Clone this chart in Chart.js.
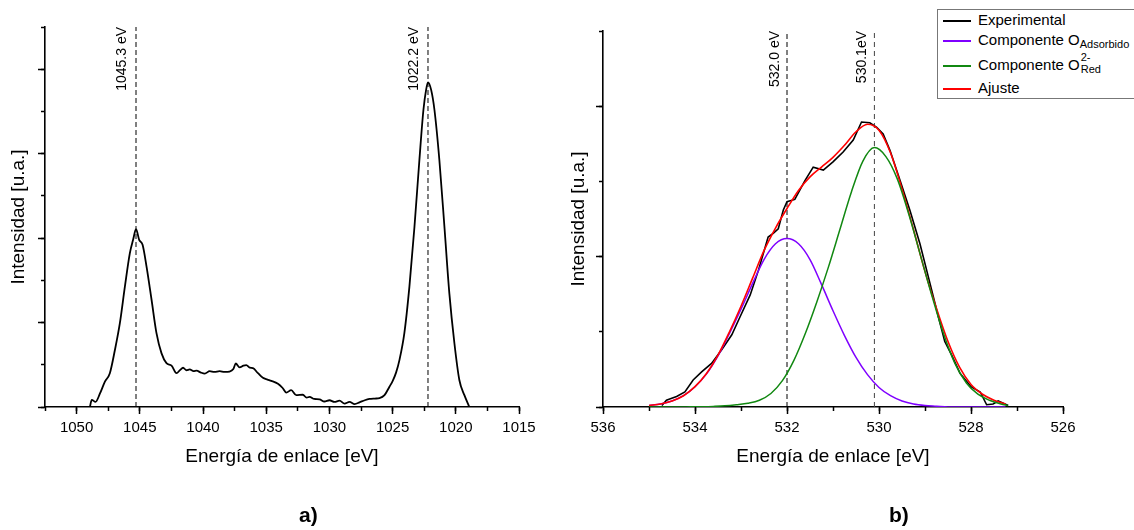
<!DOCTYPE html>
<html><head><meta charset="utf-8">
<script src="https://cdn.jsdelivr.net/npm/chart.js@4.4.1/dist/chart.umd.min.js"></script>
<style>
html,body{margin:0;padding:0;background:#fff;}
body{width:1134px;height:530px;position:relative;overflow:hidden;font-family:"Liberation Sans",Arial,sans-serif;color:#000;}
#cA{position:absolute;left:0;top:0;}
#cB{position:absolute;left:560px;top:0;}
.panel{position:absolute;top:503px;font-weight:bold;font-size:21px;line-height:24px;}
#legend{position:absolute;left:937px;top:9px;width:200px;height:88px;border:1px solid #777;background:#fff;font-size:15px;}
.sw{position:absolute;left:5px;width:28px;height:0;border-top:2px solid;}
.lab{position:absolute;left:40px;line-height:17px;white-space:nowrap;}
.sub{font-size:11px;position:relative;top:3px;}
.ss{position:relative;display:inline-block;width:30px;height:17px;vertical-align:top;}
.sp{position:absolute;left:1px;top:-5px;font-size:11px;line-height:13px;}
.sb{position:absolute;left:1px;top:7px;font-size:11px;line-height:13px;}
</style></head>
<body>
<canvas id="cA" width="560" height="530"></canvas>
<canvas id="cB" width="574" height="530"></canvas>
<div class="panel" style="left:299px;">a)</div>
<div class="panel" style="left:889px;">b)</div>
<div id="legend">
  <div class="sw" style="top:10px;border-color:#000;"></div><div class="lab" style="top:1px;">Experimental</div>
  <div class="sw" style="top:30px;border-color:#7f00ff;"></div><div class="lab" style="top:21px;">Componente O<span class="sub">Adsorbido</span></div>
  <div class="sw" style="top:55px;border-color:#118811;"></div><div class="lab" style="top:46px;">Componente O<span class="ss"><span class="sp">2-</span><span class="sb">Red</span></span></div>
  <div class="sw" style="top:78px;border-color:#ff0000;"></div><div class="lab" style="top:69px;">Ajuste</div>
</div>
<script>
// ---------- Data (a): Zn 2p spectrum ----------
const znEnergy = [1048.95,1048.8,1048.5,1048.15,1047.76,1047.37,1046.97,1046.58,1046.18,1045.79,1045.53,1045.3,1045.05,1044.78,1044.47,1044.07,1043.68,1043.28,1042.89,1042.49,1042.1,1041.8,1041.58,1041.3,1041.05,1040.75,1040.5,1040.2,1039.86,1039.47,1039.1,1038.68,1038.3,1037.9,1037.6,1037.41,1037.1,1036.8,1036.57,1036.3,1036.05,1035.65,1035.26,1034.9,1034.6,1034.07,1033.7,1033.41,1033.02,1032.62,1032.1,1031.8,1031.57,1031.2,1030.78,1030.4,1029.99,1029.6,1029.2,1028.8,1028.41,1028.0,1027.62,1027.2,1026.83,1026.4,1026.04,1025.64,1025.25,1024.99,1024.72,1024.46,1024.07,1023.67,1023.27,1022.88,1022.56,1022.35,1022.2,1021.95,1021.69,1021.3,1020.9,1020.51,1020.11,1019.72,1019.32,1018.93];
const znIntensity = [0.0,0.17,0.12,0.32,0.6,0.8,1.35,1.98,2.85,3.64,3.96,4.21,3.96,3.84,3.33,2.54,1.75,1.27,1.04,0.98,0.80,0.88,0.93,0.87,0.89,0.85,0.86,0.82,0.79,0.85,0.83,0.85,0.83,0.84,0.9,1.03,0.94,0.98,0.99,0.93,0.92,0.8,0.69,0.65,0.62,0.55,0.45,0.34,0.40,0.28,0.29,0.22,0.24,0.19,0.18,0.13,0.16,0.12,0.15,0.08,0.12,0.07,0.11,0.16,0.19,0.20,0.21,0.28,0.48,0.62,0.82,1.11,1.75,2.85,4.27,5.85,7.04,7.51,7.69,7.51,7.04,5.85,4.27,2.69,1.51,0.64,0.28,0.0];
const znPeaks = [1045.3, 1022.2];
const znPeakLabels = ['1045.3 eV', '1022.2 eV'];
const znTicksMajor = 5, znTicksMinor = 2.5;

// ---------- Data (b): O 1s spectrum ----------
const oExpEnergy = [534.72,534.62,534.58,534.40,534.22,534.04,533.85,533.64,533.42,533.20,533.02,532.80,532.62,532.41,532.30,532.19,532.08,532.00,531.83,531.61,531.43,531.21,531.00,530.78,530.56,530.38,530.20,530.05,529.91,529.76,529.54,529.33,529.11,528.89,528.71,528.57,528.42,528.24,528.00,527.80,527.66,527.52,527.41,527.19];
const oExpIntensity = [0.02,0.09,0.10,0.14,0.20,0.36,0.47,0.58,0.76,0.96,1.20,1.49,1.82,2.26,2.31,2.37,2.62,2.73,2.76,3.01,3.19,3.15,3.26,3.39,3.55,3.79,3.78,3.72,3.63,3.41,3.01,2.62,2.17,1.64,1.20,0.87,0.69,0.45,0.27,0.20,0.03,0.04,0.08,0.02];
const fitEnergy = [535.0,534.75,534.5,534.25,534.0,533.75,533.5,533.25,533.0,532.75,532.5,532.25,532.0,531.75,531.5,531.25,531.0,530.75,530.5,530.25,530.0,529.75,529.5,529.25,529.0,528.75,528.5,528.25,528.0,527.75,527.5,527.25];
const adsorbido = [0.02,0.04,0.08,0.15,0.27,0.44,0.68,0.98,1.30,1.64,1.96,2.17,2.24,2.17,1.96,1.63,1.28,0.95,0.66,0.43,0.26,0.15,0.08,0.04,0.02,0.01,0.0,0.0,0.0,0.0,0.0,0.0];
const ajuste = [0.02,0.04,0.08,0.15,0.27,0.445,0.69,1.0,1.34,1.71,2.08,2.38,2.64,2.88,3.06,3.19,3.32,3.48,3.66,3.76,3.68,3.38,2.90,2.36,1.80,1.31,0.87,0.53,0.30,0.17,0.09,0.04];
const redEnergy = [535.0,534.85,534.6,534.35,534.1,533.85,533.6,533.35,533.1,532.85,532.6,532.35,532.1,531.85,531.6,531.35,531.1,530.85,530.6,530.35,530.1,529.85,529.6,529.35,529.1,528.85,528.6,528.35,528.1,527.85,527.6,527.35,527.2];
const redComponent = [0,0,0,0,0.002,0.004,0.008,0.015,0.03,0.05,0.09,0.18,0.35,0.62,0.98,1.40,1.86,2.36,2.86,3.27,3.45,3.33,3.03,2.56,2.02,1.48,0.98,0.58,0.32,0.17,0.09,0.04,0.02];
const oPeaks = [532.0, 530.1];
const oPeakLabels = ['532.0 eV', '530.1eV'];

// ---------- helpers ----------
const FONT = '"Liberation Sans", Arial, sans-serif';
Chart.defaults.font.family = FONT;
Chart.defaults.color = '#000';
const pts = (xs, ys) => xs.map((x, i) => ({x, y: ys[i]}));
const vline = (xv, ymax, color, dash) => ({data: [{x: xv, y: 0}, {x: xv, y: ymax}], borderColor: color, borderWidth: 1, borderDash: dash, pointRadius: 0, tension: 0});

const peakLabelPlugin = {
  id: 'peakLabels',
  afterDatasetsDraw(chart, args, opts) {
    const {ctx} = chart; const x = chart.scales.x, y = chart.scales.y;
    ctx.save();
    ctx.font = '14px ' + FONT;
    ctx.fillStyle = '#000';
    ctx.textAlign = 'right';
    ctx.textBaseline = 'alphabetic';
    opts.positions.forEach((p, i) => {
      ctx.save();
      ctx.translate(x.getPixelForValue(p) - opts.gap, y.getPixelForValue(opts.top));
      ctx.rotate(-Math.PI / 2);
      ctx.fillText(opts.labels[i], 0, 0);
      ctx.restore();
    });
    ctx.restore();
  }
};

function makeScales(xmin, xmax, xMajor, xMinor, ymax, yMajor, yWidth) {
  const tickCfg = {color: '#000', tickWidth: 1.5, drawOnChartArea: false};
  return {
    x: {type: 'linear', position: 'bottom', min: xmin, max: xmax, reverse: true,
        ticks: {stepSize: xMajor, includeBounds: false, autoSkip: false, maxRotation: 0, padding: 5, color: '#000', font: {size: 15}, callback: v => String(v)},
        grid: Object.assign({tickLength: 7, tickColor: '#000'}, tickCfg),
        border: {display: true, color: '#000', width: 1.6},
        title: {display: true, text: 'Energía de enlace [eV]', color: '#000', font: {size: 19}, padding: {top: 0, bottom: 0}},
        afterFit(s) { s.height = 61; }},
    xm: {type: 'linear', axis: 'x', position: {y: 0}, min: xmin, max: xmax, reverse: true,
        ticks: {stepSize: xMinor, display: false, autoSkip: false},
        grid: Object.assign({tickLength: 4, tickColor: '#000'}, tickCfg),
        border: {display: false}},
    y: {type: 'linear', position: 'left', min: 0, max: ymax,
        ticks: {stepSize: yMajor, includeBounds: false, callback: () => '', padding: 0},
        grid: Object.assign({tickLength: 7, tickColor: '#000'}, tickCfg),
        border: {display: true, color: '#000', width: 1.6},
        title: {display: true, text: 'Intensidad [u.a.]', color: '#000', font: {size: 19}, padding: {top: 7, bottom: 0}},
        afterFit(s) { s.width = yWidth; }},
    ym: {type: 'linear', axis: 'y', position: {x: xmax}, min: 0, max: ymax,
        ticks: {stepSize: 1, display: false},
        grid: Object.assign({tickLength: 4, tickColor: '#000'}, tickCfg),
        border: {display: false}}
  };
}

const common = {responsive: false, animation: false, events: [],
  plugins: {legend: {display: false}, tooltip: {enabled: false}},
  elements: {point: {radius: 0}}};

new Chart(document.getElementById('cA'), {
  type: 'line',
  data: {datasets: [
    {data: pts(znEnergy, znIntensity), borderColor: '#000', borderWidth: 1.8, pointRadius: 0, cubicInterpolationMode: 'monotone'},
    vline(znPeaks[0], 9, '#000', [5, 3]),
    vline(znPeaks[1], 9, '#000', [5, 3])
  ]},
  options: Object.assign({}, common, {
    layout: {padding: {left: 0, right: 41, top: 27, bottom: 62}},
    scales: makeScales(1015, 1052.5, znTicksMajor, znTicksMinor, 9, 2, 45),
    plugins: Object.assign({}, common.plugins, {peakLabels: {positions: znPeaks, labels: znPeakLabels, gap: 10, top: 9}})
  }),
  plugins: [peakLabelPlugin]
});

new Chart(document.getElementById('cB'), {
  type: 'line',
  data: {datasets: [
    {data: pts(redEnergy, redComponent), borderColor: '#118811', borderWidth: 1.5, pointRadius: 0, cubicInterpolationMode: 'monotone'},
    {data: pts(fitEnergy, ajuste), borderColor: '#ff0000', borderWidth: 1.6, pointRadius: 0, cubicInterpolationMode: 'monotone'},
    {data: pts(fitEnergy, adsorbido), borderColor: '#7f00ff', borderWidth: 1.5, pointRadius: 0, cubicInterpolationMode: 'monotone'},
    {data: pts(oExpEnergy, oExpIntensity), borderColor: '#000', borderWidth: 1.6, pointRadius: 0, tension: 0},
    vline(oPeaks[0], 5, '#000', [5, 3]),
    vline(oPeaks[1], 5, '#444', [5, 4])
  ]},
  options: Object.assign({}, common, {
    layout: {padding: {left: 0, right: 71, top: 31, bottom: 62}},
    scales: makeScales(526, 536, 2, 1, 5, 2, 43),
    plugins: Object.assign({}, common.plugins, {peakLabels: {positions: oPeaks, labels: oPeakLabels, gap: 8, top: 5}})
  }),
  plugins: [peakLabelPlugin]
});
</script>
</body></html>
